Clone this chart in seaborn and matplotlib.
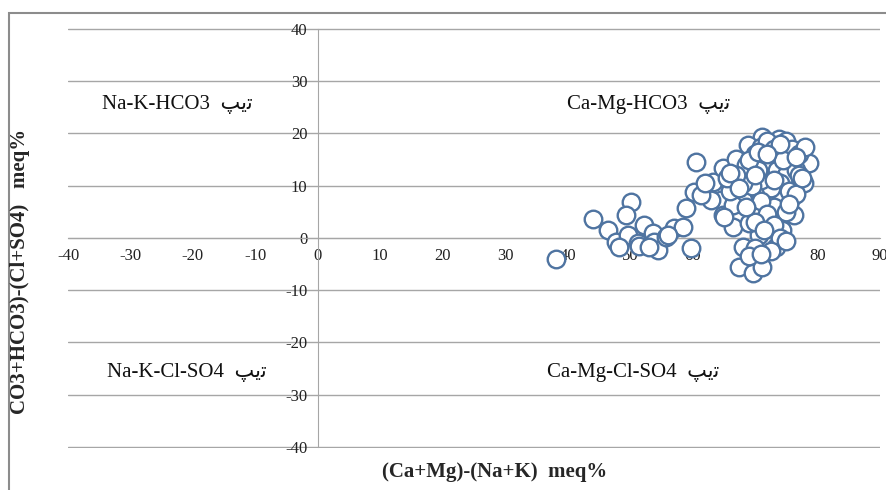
import numpy as np
import pandas as pd
import seaborn as sns
import matplotlib.pyplot as plt
from matplotlib.patches import Rectangle

# (Ca+Mg)-(Na+K) meq%  and  (CO3+HCO3)-(Cl+SO4) meq%
x_vals = [38.1, 44.0, 46.4, 47.8, 49.6, 50.1, 49.4, 48.3, 51.2, 52.3,
          53.6, 53.9, 54.4, 55.8, 57.1, 58.4, 59.0, 59.8, 60.5, 60.3,
          63.2, 64.8, 64.6, 64.8, 63.0, 61.4, 66.4, 67.5, 69.6, 71.2,
          68.0, 70.7, 71.8, 74.4, 73.4, 76.3, 76.0, 77.9, 78.7, 73.9,
          71.2, 68.8, 67.0, 68.6, 72.8, 75.8, 70.7, 68.0, 69.6, 69.1,
          66.4, 72.3, 74.4, 76.0, 70.0, 71.0, 72.0, 73.0, 74.0, 75.0,
          76.0, 77.0, 72.0, 73.5, 75.0, 76.5, 74.0, 72.5, 71.0, 69.5,
          70.5, 75.5, 77.0, 78.0, 68.0, 67.0, 66.0, 65.5, 69.0, 73.0,
          75.0, 71.0, 72.0, 70.0, 73.0, 74.0, 76.5, 71.5, 70.0, 72.5,
          69.0, 71.0, 75.0, 62.0, 65.0, 51.5, 53.0, 56.0, 70.5, 74.5,
          66.0, 67.5, 74.0, 76.5, 77.5, 73.0, 70.0, 68.5, 72.0, 75.5]
y_vals = [-4.0, 3.6, 1.5, -0.8, 0.5, 6.9, 4.4, -1.7, -1.0, 2.5,
          1.0, -0.8, -2.3, 0.2, 1.9, 2.1, 5.7, -1.9, 14.5, 8.8,
          10.7, 13.3, 7.2, 4.4, 7.2, 8.2, 2.1, -5.5, -6.7, -5.5,
          -1.7, 0.6, 3.8, 1.5, -1.7, 4.4, 10.0, 10.5, 14.3, 19.0,
          19.3, 17.7, 15.2, 13.9, 15.8, 14.3, 8.8, 7.2, 5.0, 2.9,
          6.3, 11.6, 7.2, 7.8, 16.0, 17.5, 18.5, 17.0, 16.0, 18.5,
          17.0, 16.0, 14.0, 13.0, 12.0, 13.0, 10.5, 9.5, 11.0, 10.0,
          13.0, 9.0, 12.0, 17.5, 10.5, 12.0, 9.0, 11.5, 15.0, 6.0,
          5.0, 7.0, 4.5, 3.0, 2.5, 0.0, 8.5, 1.5, -2.0, -2.5,
          -3.5, -3.0, -0.5, 10.5, 4.0, -1.5, -1.8, 0.5, 16.5, 15.0,
          12.5, 9.5, 18.0, 15.5, 11.5, 11.0, 12.0, 6.0, 16.0, 6.5]

water_types = ["Na-K-HCO3", "Ca-Mg-HCO3", "Na-K-Cl-SO4", "Ca-Mg-Cl-SO4"]
type_x = [-22.5, 53.0, -21.0, 50.5]
type_y = [25.5, 25.5, -25.7, -25.7]
# "تیپ" written with Arabic presentation forms in visual order (no shaping in matplotlib)
tip_word = "\uFB57\uFBFE\uFE97"

df = pd.DataFrame({"x": x_vals, "y": y_vals})

sns.set_style("white")
plt.rcParams['font.family'] = ['Liberation Serif', 'DejaVu Sans']
plt.rcParams['axes.unicode_minus'] = False

fig = plt.figure(figsize=(8.87, 4.90), dpi=100)
ax = fig.add_axes([0.0767, 0.0857, 0.9153, 0.8573])

sns.scatterplot(data=df, x="x", y="y", ax=ax, s=160, marker="o",
                facecolor="white", edgecolor="#4f74a1", linewidth=1.7,
                legend=False, zorder=3)

ax.set_xlim(-40, 90)
ax.set_ylim(-40.2, 40.2)
ax.set_xticks(np.arange(-40, 91, 10))
ax.set_yticks(np.arange(-40, 41, 10))
ax.yaxis.grid(True, color="#a6a6a6", linewidth=1.0)
ax.xaxis.grid(False)
ax.set_axisbelow(True)

for side in ["top", "right"]:
    ax.spines[side].set_visible(False)
ax.spines["left"].set_position(("data", 0))
ax.spines["bottom"].set_position(("data", 0))
ax.spines["left"].set_bounds(-40, 40)
ax.spines["left"].set_color("#a6a6a6")
ax.spines["bottom"].set_color("#a6a6a6")
ax.tick_params(axis="both", labelsize=12, colors="#a6a6a6", labelcolor="#222222",
               length=4, direction="out")
ax.set_xlabel("")
ax.set_ylabel("")

for name, tx, ty in zip(water_types, type_x, type_y):
    ax.text(tx, ty, name + "  " + tip_word, ha="center", va="center",
            fontsize=15, color="#111111")

fig.text(0.558, 0.036, "(Ca+Mg)-(Na+K)  meq%", ha="center", va="center",
         fontsize=15, fontweight="bold")
fig.text(0.022, 1 - 271 / 490, "CO3+HCO3)-(Cl+SO4)   meq%", ha="center", va="center",
         rotation=90, fontsize=15, fontweight="bold")

fig.patches.append(Rectangle((9 / 887, -0.05), 1.1, 1.05 - 13 / 490,
                             transform=fig.transFigure, fill=False,
                             edgecolor="#8c8c8c", linewidth=1.5))

fig.savefig("out.png", dpi=100)
